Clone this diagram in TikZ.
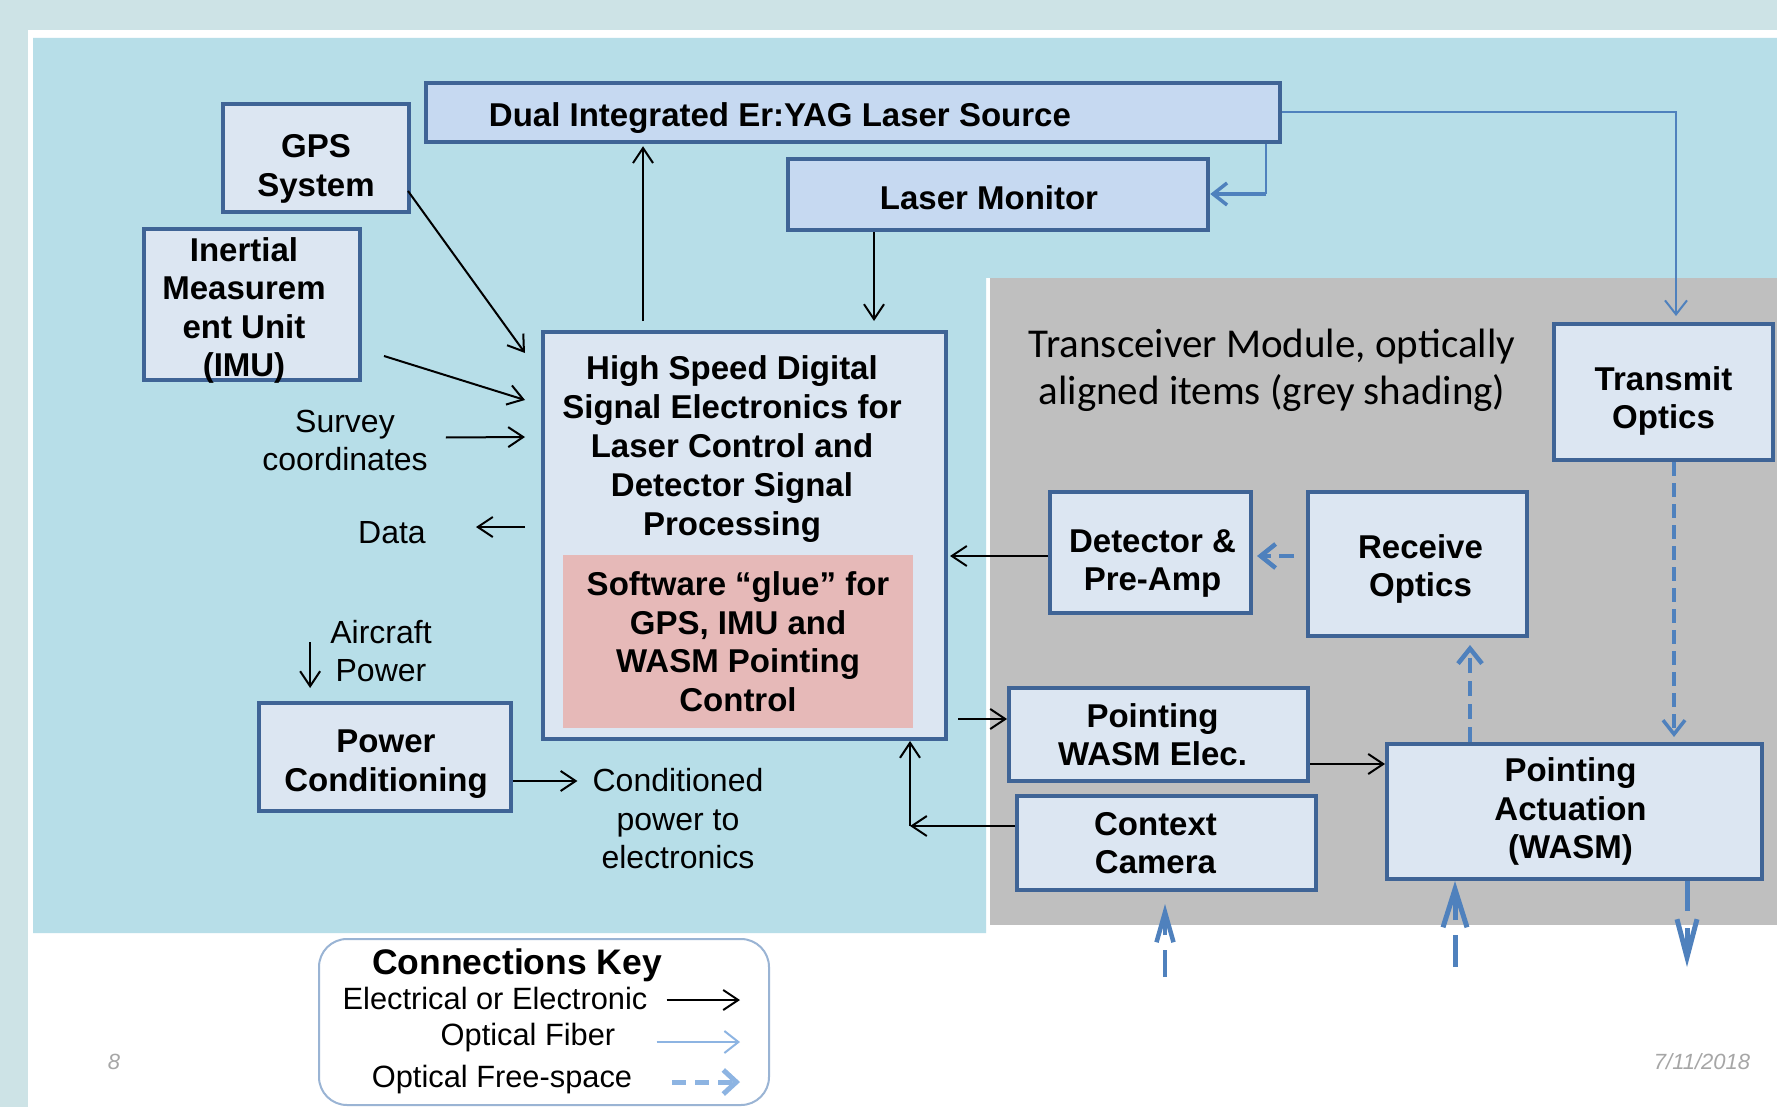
\documentclass[tikz,border=0pt]{standalone}
\usepackage{fontspec}
\setmainfont{Liberation Sans}
\newfontfamily\calfont{Carlito}
\usetikzlibrary{arrows.meta,calc}
\definecolor{outerbg}{HTML}{CDE3E6}
\definecolor{bluebg}{HTML}{B7DEE8}
\definecolor{greybg}{HTML}{BFBFBF}
\definecolor{boxfill}{HTML}{DCE6F2}
\definecolor{boxfilltwo}{HTML}{C6D9F1}
\definecolor{boxborder}{HTML}{3F6496}
\definecolor{pinkfill}{HTML}{E6B9B8}
\definecolor{fibercol}{HTML}{4F81BD}
\definecolor{fscol}{HTML}{4F81BD}
\definecolor{keyblue}{HTML}{8DB4E2}
\definecolor{keyborder}{HTML}{9AB4D4}
\definecolor{pagegrey}{HTML}{A6A6A6}
\begin{document}
\begin{tikzpicture}[x=1pt,y=-1pt,
  box/.style={draw=boxborder, line width=4pt, fill=boxfill, inner sep=0pt},
  lbox/.style={box, fill=boxfilltwo, line width=4.5pt},
  boxtext/.style={inner sep=0pt, align=center, font=\bfseries\fontsize{33}{38.5}\selectfont},
  txt/.style={inner sep=0pt, align=center, font=\fontsize{32}{38.5}\selectfont},
  keytxt/.style={inner sep=0pt, align=center, font=\fontsize{30.8}{36}\selectfont},
  pagetxt/.style={inner sep=0pt, text=pagegrey, font=\itshape\fontsize{22}{26}\selectfont},
  elec/.style={draw=black, line width=2pt, -{Straight Barb[length=15pt,width=20pt]}},
  fiber/.style={draw=fibercol, line width=2pt, -{Straight Barb[length=14pt,width=22pt]}},
  fs/.style={draw=fscol, line width=4.5pt, dash pattern=on 15pt off 8pt,
    -{Straight Barb[length=15pt,width=24pt]}},
  fsthin/.style={draw=fscol, line width=3.5pt, dash pattern=on 14pt off 7pt,
    -{Straight Barb[length=14pt,width=22pt]}},
  keyfiber/.style={draw=keyblue, line width=2pt, -{Straight Barb[length=14pt,width=22pt]}},
  keyfs/.style={draw=keyblue, line width=5pt, dash pattern=on 14pt off 9pt,
    -{Straight Barb[length=13pt,width=24pt]}}
]
\useasboundingbox (0,0) rectangle (1777,1107);
% backgrounds
\fill[outerbg] (0,0) rectangle (1777,1107);
\fill[white] (28,30) rectangle (1777,1107);
\fill[bluebg] (33,38) -- (1777,38) -- (1777,278) -- (986,278) -- (986,933) -- (33,933) -- cycle;
\fill[greybg] (990,278) rectangle (1777,925);

% boxes
\node[lbox, minimum width=854pt, minimum height=59pt] (laser) at (853,112.5) {};
\node[boxtext, anchor=west] (laserT) at ($(laser.west)+(65,6)$) {Dual Integrated Er:YAG Laser Source};
\node[box, minimum width=186pt, minimum height=108pt] (gps) at (316,158) {};
\node[boxtext] (gpsT) at ($(gps)+(0,11)$) {GPS\\System};
\node[box, minimum width=216pt, minimum height=151pt] (imu) at (252,304.5) {};
\node[boxtext] (imuT) at ($(imu)+(-8,6)$) {Inertial\\Measurem\\ent Unit\\(IMU)};
\node[lbox, minimum width=420pt, minimum height=71pt] (mon) at (998,194.5) {};
\node[boxtext] (monT) at ($(mon)+(-9,3)$) {Laser Monitor};
\node[box, minimum width=403pt, minimum height=407pt] (hs) at (744.5,535.5) {};
\node[boxtext, font=\bfseries\fontsize{33}{39}\selectfont] (hsT) at (732,449)
  {High Speed Digital\\Signal Electronics for\\Laser Control and\\Detector Signal\\Processing};
\node[boxtext, fill=pinkfill, minimum width=350pt, minimum height=173pt] (glue) at (738,641.5)
  {Software “glue” for\\GPS, IMU and\\WASM Pointing\\Control};
\node[box, minimum width=219pt, minimum height=136pt] (tx) at (1663.5,392) {};
\node[boxtext] (txT) at ($(tx)+(0,9)$) {Transmit\\Optics};
\node[box, minimum width=201pt, minimum height=121pt] (det) at (1150.5,552.5) {};
\node[boxtext] (detT) at ($(det)+(2,11)$) {Detector \&\\Pre-Amp};
\node[box, minimum width=219pt, minimum height=144pt] (rx) at (1417.5,564) {};
\node[boxtext] (rxT) at ($(rx)+(3,5)$) {Receive\\Optics};
\node[box, minimum width=299pt, minimum height=93pt] (pwe) at (1158.5,734.5) {};
\node[boxtext] (pweT) at ($(pwe)+(-6,0)$) {Pointing\\WASM Elec.};
\node[box, minimum width=299pt, minimum height=94pt] (cam) at (1166.5,843) {};
\node[boxtext] (camT) at ($(cam)+(-11,0)$) {Context\\Camera};
\node[box, minimum width=375pt, minimum height=135pt] (act) at (1574.5,811.5) {};
\node[boxtext] (actT) at ($(act)+(-4,0)$) {Pointing\\Actuation\\(WASM)};
\node[box, minimum width=252pt, minimum height=108pt] (pwr) at (385,757) {};
\node[boxtext] (pwrT) at ($(pwr)+(1,7)$) {Power\\Conditioning};

% free texts
\node[txt] (survey) at (345,440.5) {Survey\\coordinates};
\node[txt] (data) at (392,533) {Data};
\node[txt] (aircraft) at (381,651) {Aircraft\\Power};
\node[txt] (condpow) at (678,819) {Conditioned\\power to\\electronics};
\node[inner sep=0pt, align=center, font=\calfont\fontsize{41}{47}\selectfont] (trans) at (1272,370)
  {Transceiver Module, optically\\aligned items (grey shading)};
\node[pagetxt] (pagenum) at (114,1062) {8};
\node[pagetxt] (date) at (1702,1062) {7/11/2018};

% electrical connectors
\draw[elec] ($(gps.east |- 0,191)+(-3,0)$) -- ($(hs.west |- 0,353)+(-16,0)$);
\draw[elec] ($(imu.east |- 0,356)+(22,0)$) -- ($(hs.west |- 0,400)+(-16,0)$);
\draw[elec] ($(survey.east)+(18,-3)$) -- ($(hs.west |- 0,437)+(-16,0)$);
\draw[elec] ($(hs.north -| 643,0)+(0,-9)$) -- ($(laser.south -| 643,0)+(0,2)$);
\draw[elec] (mon.south -| 874,0) -- ($(hs.north -| 874,0)+(0,-9)$);
\draw[elec] ($(hs.west |- 0,527)+(-16,0)$) -- ($(data.east |- 0,527)+(50,0)$);
\draw[elec] ($(aircraft.west)+(-20,-9)$) -- ($(pwr.north -| aircraft.west)+(-20,-13)$);
\draw[elec] (pwr.east |- 0,781) -- ($(condpow.west |- 0,781)+(-15,0)$);
\draw[elec] (det.west |- 0,556) -- ($(hs.east |- 0,556)+(2,0)$);
\draw[elec] ($(hs.east |- 0,719)+(10,0)$) -- (pwe.west |- 0,719);
\draw[elec] (pwe.east |- 0,764) -- (act.west |- 0,764);
\coordinate (cc) at (910,826);
\draw[elec] (cam.west |- cc) -- (cc);
\draw[elec] (cc) -- (cc |- hs.south);

% optical fiber
\coordinate (f1) at (1266,194);
\draw[draw=fibercol, line width=1.5pt] (laser.south -| f1) -- (f1);
\draw[fiber, line width=3.5pt] (f1) -- (mon.east |- f1);
\coordinate (f2) at (1676,112);
\draw[fiber] (laser.east |- f2) -- (f2) -- ($(f2 |- tx.north)+(0,-6)$);

% optical free-space
\draw[fs] ($(rx.west |- 0,556)+(-12,0)$) -- ($(det.east |- 0,556)+(4,0)$);
\draw[fsthin] (tx.south -| 1674,0) -- ($(act.north -| 1674,0)+(0,-5)$);
\draw[fs] (act.north -| 1470,0) -- ($(rx.south -| 1470,0)+(0,7)$);
\coordinate (e1) at (1165,977);
\draw[fscol, line width=4.5pt, dash pattern=on 27pt off 15pt on 200pt,
  -{Straight Barb[length=30pt,width=17pt]}] (e1) -- ($(cam.south -| e1)+(0,12)$);
\coordinate (e2) at (1455,967);
\draw[fscol, line width=5pt, dash pattern=on 32pt off 15pt on 200pt,
  -{Straight Barb[length=38pt,width=24pt]}] (e2) -- (act.south -| e2);
\coordinate (e3) at (1687,967);
\draw[fscol, line width=5pt, dash pattern=on 30pt off 17pt on 200pt,
  -{Straight Barb[length=38pt,width=20pt]}] (act.south -| e3) -- (e3);

% key
\node[draw=keyborder, line width=2pt, rounded corners=28pt, fill=white, minimum width=450pt,
  minimum height=166pt] (key) at (544,1022) {};
\node[inner sep=0pt, font=\bfseries\fontsize{35.5}{40}\selectfont] (keyT) at (517,965) {Connections Key};
\node[keytxt] (key1) at (495,998) {Electrical or Electronic};
\node[keytxt] (key2) at (528,1038) {Optical Fiber};
\node[keytxt] (key3) at (502,1080) {Optical Free-space};
\draw[elec] ($(key1.east)+(19,2)$) -- ($(key.east |- key1.east)+(-30,2)$);
\draw[keyfiber] ($(key2.east)+(41,4)$) -- ($(key.east |- key2.east)+(-30,4)$);
\draw[keyfs] ($(key3.east)+(40,2)$) -- ($(key.east |- key3.east)+(-30,2)$);
\end{tikzpicture}
\end{document}
